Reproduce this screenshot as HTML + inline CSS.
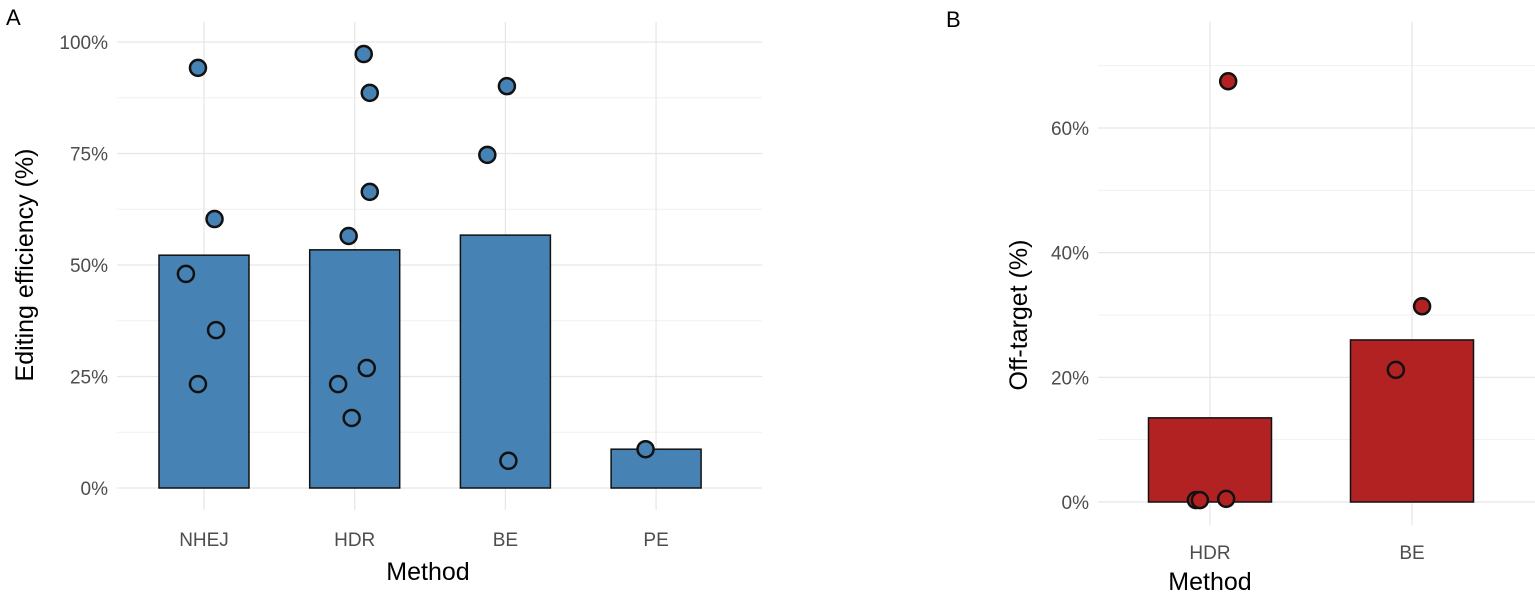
<!DOCTYPE html>
<html><head><meta charset="utf-8"><style>
body{margin:0;background:#fff;width:1535px;height:596px;overflow:hidden;font-family:"Liberation Sans",sans-serif}
</style></head><body>
<svg id="chart" width="1535" height="596" xmlns="http://www.w3.org/2000/svg">
<text x="6" y="25" font-size="22" fill="#000">A</text>
<text x="946" y="27" font-size="22" fill="#000">B</text>
<g id="pa"></g>
<g id="pb"></g>
</svg>
<script>
const catsA=["NHEJ","HDR","BE","PE"];
const barsA=[52.2,53.4,56.7,8.7];
const ptCatA=[0,0,0,0,0,1,1,1,1,1,1,1,2,2,2,3];
const ptValA=[94.2,60.3,48,35.4,23.3,97.3,88.6,66.4,56.5,26.9,23.3,15.7,90.1,74.7,6.1,8.7];
const ptJitA=[-0.04,0.07,-0.12,0.08,-0.04,0.06,0.10,0.10,-0.04,0.08,-0.11,-0.02,0.01,-0.12,0.02,-0.07];
const ticksA=[0,25,50,75,100];
const catsB=["HDR","BE"];
const barsB=[13.5,26];
const ptCatB=[0,0,0,0,1,1];
const ptValB=[67.5,0.3,0.3,0.5,31.4,21.2];
const ptJitB=[0.09,-0.07,-0.05,0.08,0.05,-0.08];
const ticksB=[0,20,40,60];
const NS="http://www.w3.org/2000/svg";
function mk(p,t,a){const e=document.createElementNS(NS,t);for(const k in a)e.setAttribute(k,a[k]);p.appendChild(e);return e;}
function panel(g,o){
 const y=v=>o.y0-(v/o.ymax)*(o.y0-o.y1);
 const x=c=>o.xc0+c*o.step;
 for(let v=o.minor;v<=o.gridMax;v+=o.minor){const l=mk(g,'line',{x1:o.left,x2:o.right,y1:y(v),y2:y(v),stroke:'#f0f0f0','stroke-width':1});
 }
 o.ticks.forEach(v=>{const l=mk(g,'line',{x1:o.left,x2:o.right,y1:y(v),y2:y(v),stroke:'#e6e6e6','stroke-width':1.2});
 
 const t=mk(g,'text',{x:o.left-9,y:y(v)+7,'text-anchor':'end','font-size':19,fill:'#4d4d4d'});t.textContent=v+'%';
 });
 o.cats.forEach((c,i)=>{const l=mk(g,'line',{x1:x(i),x2:x(i),y1:o.top,y2:o.bottom,stroke:'#e6e6e6','stroke-width':1.2});
 });
 o.cats.forEach((c,i)=>{const r=mk(g,'rect',{x:x(i)-o.bw/2,y:y(o.bars[i]),width:o.bw,height:y(0)-y(o.bars[i]),fill:o.col,stroke:'#111','stroke-width':1.5});
 
 const t=mk(g,'text',{x:x(i),y:o.y0+o.xlo,'text-anchor':'middle','font-size':19,fill:'#4d4d4d'});t.textContent=c;
 });
 o.pv.forEach((v,k)=>{const c=mk(g,'circle',{cx:x(o.pc[k]+o.pj[k]),cy:y(v),r:8,fill:o.col,stroke:'#111','stroke-width':2.5});
 });
 const xt=mk(g,'text',{x:o.xtx,y:o.xty,'text-anchor':'middle','font-size':25,fill:'#000'});xt.textContent='Method';
 
 const yt=mk(g,'text',{x:0,y:0,'text-anchor':'middle','font-size':25,fill:'#000',transform:`translate(${o.ytx},${(o.y0+o.y1)/2}) rotate(-90)`});yt.textContent=o.ylab;
 
}
panel(document.getElementById('pa'),{y0:488,y1:42,ymax:100,xc0:204,step:150.7,bw:90,left:117,right:762,top:22,bottom:510,minor:12.5,gridMax:100,
 ticks:ticksA,cats:catsA,bars:barsA,pv:ptValA,pc:ptCatA,pj:ptJitA,col:'#4682b4',xlo:58,xtx:428,xty:580,ytx:33,ylab:'Editing efficiency (%)'});
panel(document.getElementById('pb'),{y0:502,y1:128,ymax:60,xc0:1210,step:202,bw:123,left:1098,right:1535,top:22,bottom:525,minor:10,gridMax:70,
 ticks:ticksB,cats:catsB,bars:barsB,pv:ptValB,pc:ptCatB,pj:ptJitB,col:'#b22222',xlo:57,xtx:1210,xty:590,ytx:1027,ylab:'Off-target (%)'});
</script>
</body></html>
